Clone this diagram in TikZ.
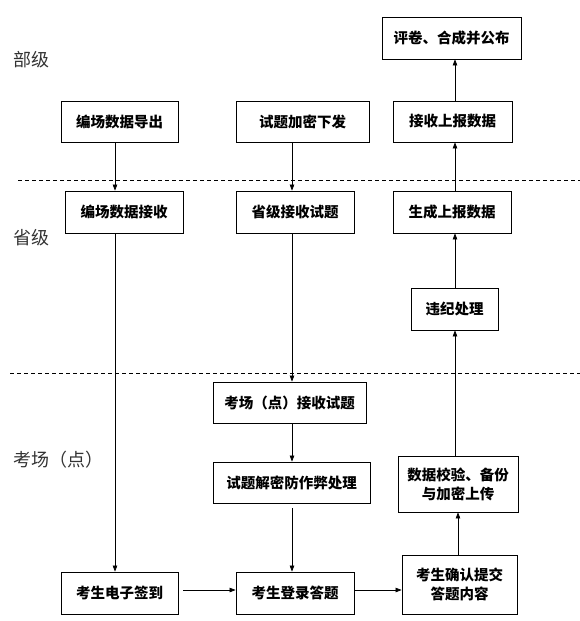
\documentclass[tikz,border=0pt]{standalone}
\usepackage{fontspec}
\newfontfamily\cjk{Noto Sans CJK SC}
\usetikzlibrary{arrows.meta}
\tikzset{
  box/.style={draw, line width=0.8pt, inner sep=0pt, font=\cjk\bfseries\fontsize{14.5}{19}\selectfont, align=center},
  lvl/.style={font=\cjk\fontsize{18}{20}\selectfont, text=black!80, anchor=west, inner sep=0pt},
  arr/.style={line width=0.7pt, -{Triangle[length=6pt,width=4.5pt]}},
  sep/.style={line width=0.7pt, dash pattern=on 4pt off 3pt}
}
\begin{document}
\begin{tikzpicture}[x=1pt,y=-1pt]
\useasboundingbox (0,0) rectangle (580,621);
% boxes: corners given in pixels
\newcommand{\bx}[6]{\node[box, minimum width={#4-#2}, minimum height={#5-#3}] (#1) at ({(#2+#4)/2},{(#3+#5)/2}) {#6};}
\bx{pj}{382}{17}{521}{59}{评卷、合成并公布}
\bx{a1}{61}{101}{178}{142}{编场数据导出}
\bx{a2}{236}{101}{369}{142}{试题加密下发}
\bx{a3}{393}{101}{512}{142}{接收上报数据}
\bx{b1}{65}{191}{183}{233}{编场数据接收}
\bx{b2}{236}{191}{354}{233}{省级接收试题}
\bx{b3}{393}{191}{511}{233}{生成上报数据}
\bx{wj}{411}{288}{498}{330}{违纪处理}
\bx{c1}{213}{382}{366}{423}{考场（点）接收试题}
\bx{c2}{213}{462}{370}{503}{试题解密防作弊处理}
\bx{sj}{398}{456}{518}{512}{数据校验、备份\\与加密上传}
\bx{d1}{61}{572}{178}{614}{考生电子签到}
\bx{d2}{236}{572}{354}{614}{考生登录答题}
\bx{d3}{402}{555}{517}{614}{考生确认提交\\答题内容}
% level labels
\node[lvl] (l1) at (13,60) {部级};
\node[lvl] (l2) at (13,238) {省级};
\node[lvl] (l3) at (13,460) {考场（点）};
% separators
\coordinate (s1a) at (18,180); \coordinate (s1b) at (580,180);
\coordinate (s2a) at (10,373); \coordinate (s2b) at (580,373);
\draw[sep] (s1a) -- (s1b);
\draw[sep] (s2a) -- (s2b);
% arrows
\draw[arr] (a1.south -| 115,0) -- (b1.north -| 115,0);
\draw[arr] (b1.south -| 115,0) -- (d1.north -| 115,0);
\draw[arr] (a2.south -| 292,0) -- (b2.north -| 292,0);
\draw[arr] (b2.south -| 292,0) -- (c1.north -| 292,0);
\draw[arr] (c1.south -| 292,0) -- (c2.north -| 292,0);
\coordinate (c2b) at (292,508);
\draw[arr] (c2b) -- (d2.north -| 292,0);
\draw[arr] (d1.east |- 0,590) ++(5,0) coordinate (h1) -- (d2.west |- 0,590);
\draw[arr] (d2.east |- 0,590) -- (d3.west |- 0,590);
\draw[arr] (d3.north -| 458,0) -- (sj.south -| 458,0);
\draw[arr] (sj.north -| 455,0) -- (wj.south -| 455,0);
\draw[arr] (wj.north -| 455,0) -- (b3.south -| 455,0);
\draw[arr] (b3.north -| 455,0) -- (a3.south -| 455,0);
\draw[arr] (a3.north -| 455,0) -- (pj.south -| 455,0);
\end{tikzpicture}
\end{document}
